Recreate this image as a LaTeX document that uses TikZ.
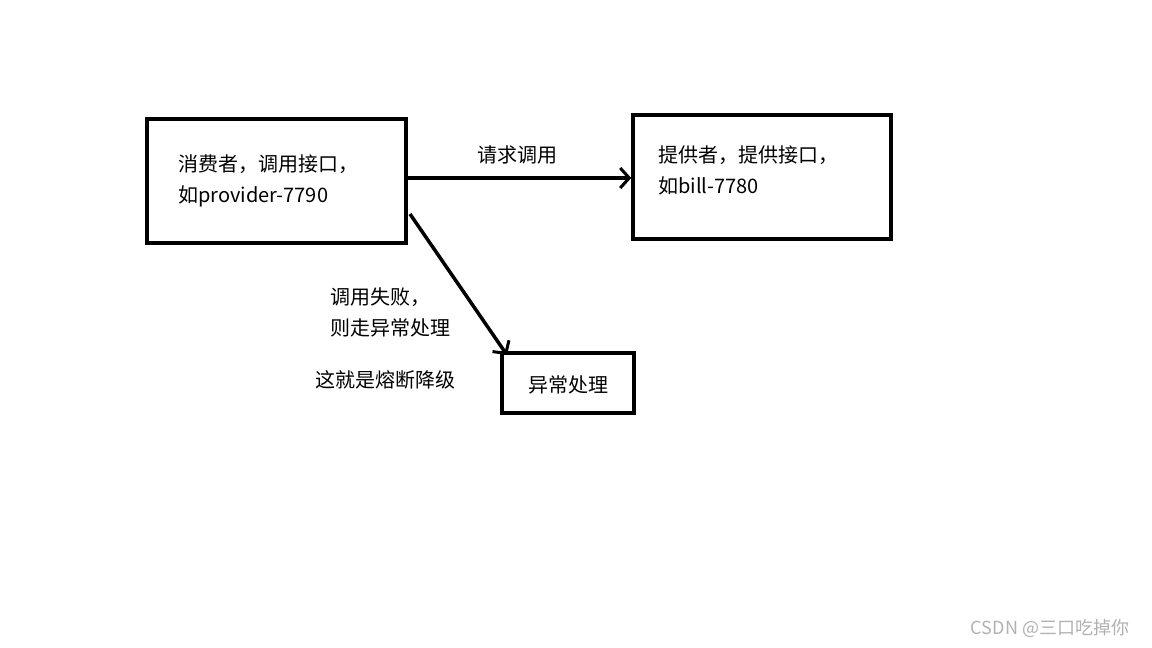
\documentclass[tikz,border=0pt]{standalone}
\usepackage{fontspec}
\setmainfont{Noto Sans CJK SC}
\usetikzlibrary{arrows.meta}
\tikzset{box/.style={draw,line width=3.5pt},
 lbl/.style={font=\fontsize{20}{31}\selectfont,align=left,inner sep=0pt},
 arr/.style={line width=3.5pt,-{Straight Barb[length=9pt,width=20pt,line width=3pt]}}}
\begin{document}
\begin{tikzpicture}[x=1pt,y=-1pt]
\useasboundingbox[fill=white] (0,0) rectangle (1152,648);
\node[box,minimum width=259pt,minimum height=124pt] (c) at (276.5,181) {};
\node[lbl,anchor=west] (ct) at (178,181) {消费者，调用接口，\\如provider-7790};
\node[box,minimum width=258pt,minimum height=124pt] (p) at (762,177) {};
\node[lbl,anchor=west] (pt) at (658,170) {提供者，提供接口，\\如bill-7780};
\node[box,minimum width=132pt,minimum height=60pt] (e) at (568,383) {};
\node[lbl] (et) at (568,385) {异常处理};
\coordinate (a1) at (406,178);
\coordinate (a2) at (410,214);
\coordinate (b2) at (507,355);
\draw[arr] (a1) -- (p.west |- a1);
\draw[arr] (a2) -- (b2);
\node[lbl] (l1) at (517,155) {请求调用};
\node[lbl,anchor=west] (l2) at (330,312) {调用失败，\\则走异常处理};
\node[lbl] (l3) at (385,380) {这就是熔断降级};
\node[font=\fontsize{18}{20}\selectfont,text=gray!60,inner sep=0pt] (w) at (1050,628) {CSDN @三口吃掉你};
\end{tikzpicture}
\end{document}
